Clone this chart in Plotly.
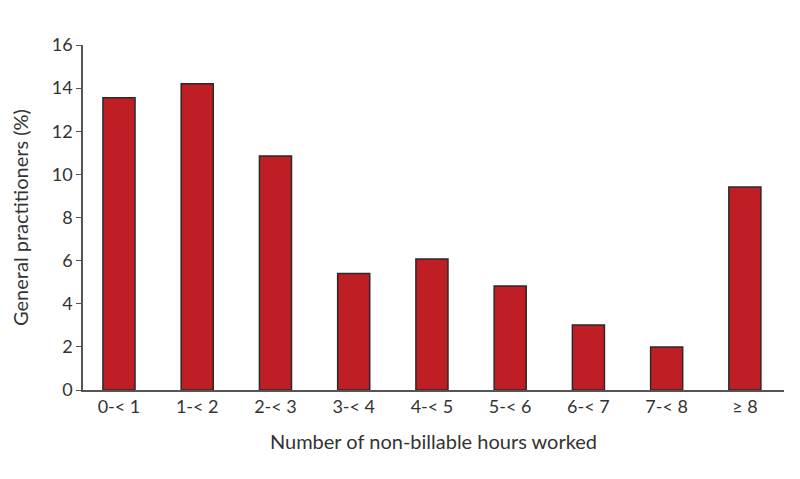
import plotly.graph_objects as go

categories = ["0-<1", "1-<2", "2-<3", "3-<4", "4-<5", "5-<6", "6-<7", "7-<8", "≥8"]
values = [13.55, 14.2, 10.85, 5.4, 6.08, 4.82, 3.02, 2.0, 9.42]
tick_labels = ["0-< 1", "1-< 2", "2-< 3", "3-< 4", "4-< 5", "5-< 6", "6-< 7", "7-< 8", "≥ 8"]

fig = go.Figure(go.Bar(
    x=list(range(len(categories))), y=values,
    marker=dict(color="#BE1E24", line=dict(color="#2a2a2a", width=1.5)),
    width=0.41,
))

font = "Lato, Open Sans, sans-serif"
fig.update_layout(
    width=800, height=479,
    margin=dict(l=75, r=24, t=37, b=97),
    plot_bgcolor="white", paper_bgcolor="white",
    showlegend=False,
    font=dict(family=font, size=17, color="#333333"),
    xaxis=dict(
        tickmode="array", tickvals=list(range(len(categories))), ticktext=tick_labels,
        range=[-0.46, 8.5], showline=True, linecolor="#555555", linewidth=1.5,
        ticks="", showgrid=False, zeroline=False, automargin=False,
        title=dict(text="Number of non-billable hours worked", standoff=19),
        tickfont=dict(size=18),
    ),
    yaxis=dict(
        range=[0, 16], dtick=2, showline=True, linecolor="#555555", linewidth=1.5,
        ticks="outside", ticklen=5, tickcolor="#555555", showgrid=False, zeroline=False,
        automargin=False,
        title=dict(text="General practitioners (%)", standoff=19),
        tickfont=dict(size=18),
    ),
)

fig.write_html("out.html")
